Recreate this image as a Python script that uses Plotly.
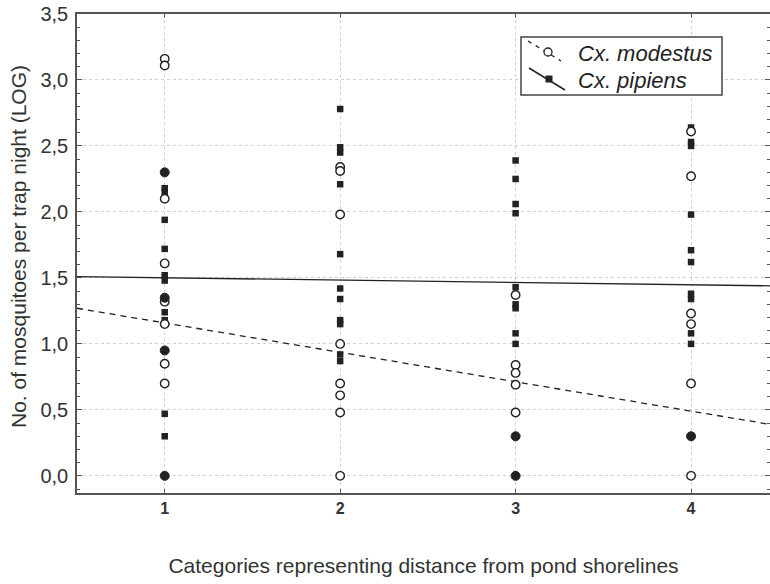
import plotly.graph_objects as go

# ---- data ----
categories = [1, 2, 3, 4]
tick_labels = ["1", "2", "3", "4"]

# Cx. modestus (open circles), per category
modestus_c1 = [3.16, 3.11, 2.10, 1.61, 1.32, 1.15, 0.85, 0.70]
modestus_c2 = [2.34, 2.31, 1.98, 1.00, 0.70, 0.61, 0.48, 0.00]
modestus_c3 = [1.37, 0.84, 0.78, 0.69, 0.48]
modestus_c4 = [2.61, 2.27, 1.23, 1.15, 0.70, 0.00]

# Cx. pipiens (filled squares), per category
pipiens_c1 = [2.18, 2.15, 1.94, 1.72, 1.52, 1.48, 1.24, 1.18, 0.47, 0.30]
pipiens_c2 = [2.78, 2.49, 2.45, 2.21, 1.68, 1.42, 1.34, 1.18, 1.15, 0.92, 0.87]
pipiens_c3 = [2.39, 2.25, 2.06, 1.99, 1.43, 1.30, 1.27, 1.08, 1.00]
pipiens_c4 = [2.64, 2.53, 2.50, 1.98, 1.71, 1.62, 1.38, 1.34, 1.08, 1.00]

# values shared by both species (drawn as filled circles)
both_c1 = [2.30, 1.35, 0.95, 0.00]
both_c2 = []
both_c3 = [0.30, 0.00]
both_c4 = [0.30]

# regression lines (values at the x-axis ends)
fit_x = [0.5, 4.45]
modestus_fit = [1.27, 0.39]
pipiens_fit = [1.51, 1.44]

legend_names = ["Cx. modestus", "Cx. pipiens"]


def flatten(groups):
    xs, ys = [], []
    for c, vals in zip(categories, groups):
        xs += [c] * len(vals)
        ys += vals
    return xs, ys


mx, my = flatten([modestus_c1, modestus_c2, modestus_c3, modestus_c4])
px, py = flatten([pipiens_c1, pipiens_c2, pipiens_c3, pipiens_c4])
bx, by = flatten([both_c1, both_c2, both_c3, both_c4])

ink = "#222222"
fam = "Liberation Sans, Arial, sans-serif"

W, H = 770, 584
ML, MR, MT, MB = 77, 0, 14, 91
PW, PH = W - ML - MR, H - MT - MB


def fx(p):  # pixel x -> paper x
    return (p - ML) / PW


def fy(p):  # pixel y -> paper y
    return (H - MB - p) / PH


fig = go.Figure()

fig.add_trace(go.Scatter(x=fit_x, y=pipiens_fit, mode="lines", name=legend_names[1],
                         line=dict(color=ink, width=1.3), showlegend=False))
fig.add_trace(go.Scatter(x=fit_x, y=modestus_fit, mode="lines", name=legend_names[0],
                         line=dict(color=ink, width=1.3, dash="6px,5px"), showlegend=False))

fig.add_trace(go.Scatter(x=px, y=py, mode="markers", showlegend=False, name=legend_names[1],
                         marker=dict(symbol="square", size=6.5, color=ink,
                                     line=dict(width=0))))
fig.add_trace(go.Scatter(x=mx, y=my, mode="markers", showlegend=False, name=legend_names[0],
                         marker=dict(symbol="circle", size=8.5, color="white",
                                     line=dict(color=ink, width=1.4))))
fig.add_trace(go.Scatter(x=bx, y=by, mode="markers", showlegend=False, name="both",
                         marker=dict(symbol="circle", size=9, color=ink,
                                     line=dict(color=ink, width=1))))

# ---- legend box drawn like the original (diagonal key symbols) ----
shapes = [
    dict(type="rect", xref="paper", yref="paper",
         x0=fx(521), x1=fx(722), y0=fy(37), y1=fy(95),
         line=dict(color="#444444", width=1.5), fillcolor="white"),
    dict(type="line", xref="paper", yref="paper",
         x0=fx(528), y0=fy(41), x1=fx(561), y1=fy(61),
         line=dict(color=ink, width=1.3, dash="4px,5px")),
    dict(type="circle", xref="paper", yref="paper",
         x0=fx(544), x1=fx(552), y0=fy(48), y1=fy(56),
         line=dict(color=ink, width=1.3), fillcolor="white"),
    dict(type="line", xref="paper", yref="paper",
         x0=fx(529), y0=fy(68), x1=fx(565), y1=fy(90),
         line=dict(color=ink, width=1.5)),
    dict(type="rect", xref="paper", yref="paper",
         x0=fx(545.5), x1=fx(552.5), y0=fy(75.5), y1=fy(82.5),
         line=dict(width=0), fillcolor=ink),
]
annotations = [
    dict(xref="paper", yref="paper", x=fx(576), y=fy(53), xanchor="left", yanchor="middle",
         text="<i>%s</i>" % legend_names[0], showarrow=False,
         font=dict(family=fam, size=22, color="#222222")),
    dict(xref="paper", yref="paper", x=fx(576), y=fy(80), xanchor="left", yanchor="middle",
         text="<i>%s</i>" % legend_names[1], showarrow=False,
         font=dict(family=fam, size=22, color="#222222")),
    dict(xref="paper", yref="paper", x=fx(18), y=fy(247), xanchor="center", yanchor="middle",
         text="No. of mosquitoes per trap night (LOG)", textangle=-90, showarrow=False,
         font=dict(family=fam, size=21, color="#333333")),
]

fig.update_layout(
    width=W, height=H,
    margin=dict(l=ML, r=MR, t=MT, b=MB),
    paper_bgcolor="white", plot_bgcolor="white",
    separators=",.",
    showlegend=False,
    font=dict(family=fam, size=18, color="#333333"),
    shapes=shapes, annotations=annotations,
    xaxis=dict(range=[0.5, 4.45], tickmode="array", tickvals=categories,
               ticktext=["<b>%s</b>" % t for t in tick_labels],
               tickfont=dict(family=fam, size=16, color="#333333"),
               showgrid=True, gridcolor="#d0d0d0", griddash="dot", gridwidth=1,
               showline=True, linecolor="#555555", linewidth=1.5, mirror="ticks",
               ticks="inside", ticklen=4, tickcolor="#555555",
               zeroline=False, automargin=False,
               title=dict(text="Categories representing distance from pond shorelines",
                          font=dict(family=fam, size=21, color="#333333"), standoff=42)),
    yaxis=dict(range=[-0.13, 3.5], tickmode="array",
               tickvals=[0, 0.5, 1.0, 1.5, 2.0, 2.5, 3.0, 3.5],
               tickformat=".1f",
               tickfont=dict(family=fam, size=20, color="#333333"),
               ticklabelstandoff=3,
               showgrid=True, gridcolor="#d0d0d0", griddash="dot", gridwidth=1,
               showline=True, linecolor="#555555", linewidth=1.5, mirror="ticks",
               ticks="inside", ticklen=5, tickcolor="#555555",
               minor=dict(dtick=0.1, tick0=0, ticks="inside", ticklen=3,
                          tickcolor="#555555", showgrid=False),
               zeroline=False, automargin=False),
)

# remove the browser's default 8px page margin so the figure sits at (0, 0)
fig.write_html("out.html", config={"displayModeBar": False},
               post_script="document.body.style.margin='0px';")
